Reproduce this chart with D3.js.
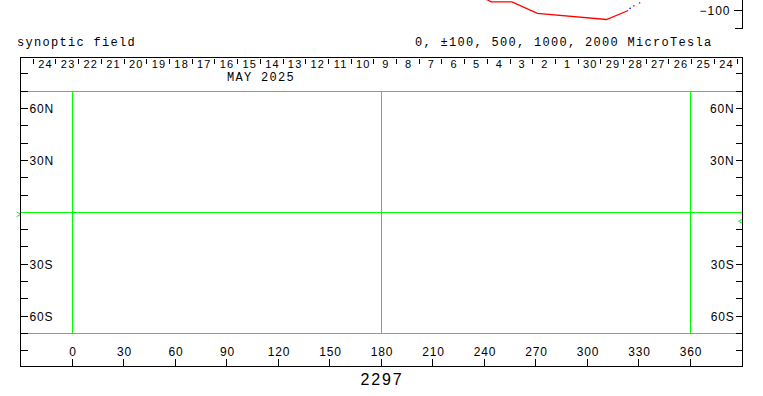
<!DOCTYPE html>
<html>
<head>
<meta charset="utf-8">
<script src="https://cdn.jsdelivr.net/npm/d3@7"></script>
<style>
  body { margin: 0; background: #fff; }
  svg { display: block; }
  .mono { font-family: "Liberation Mono", "DejaVu Sans Mono", monospace; font-size: 12px; letter-spacing: 1.3px; }
  .lbl { font-family: "Liberation Sans", Arial, sans-serif; font-size: 12px; letter-spacing: 0.8px; }
</style>
</head>
<body>
<div id="chart"></div>
<script>
// Day labels along the top (time runs right to left over the rotation)
const dayStart = new Date(Date.UTC(2025, 4, 25)); // left edge of day row
const dayEnd = new Date(Date.UTC(2025, 3, 24));   // right edge of day row
const monthLabel = "MAY 2025";
const rotationNumber = "2297";

// Longitude / latitude ticks
const lonTicks = [0, 30, 60, 90, 120, 150, 180, 210, 240, 270, 300, 330, 360];
const latTicks = [80, 70, 60, 50, 40, 30, 20, 10, -10, -20, -30, -40, -50, -60, -70, -80];
const latLabels = { 60: "60N", 30: "30N", "-30": "30S", "-60": "60S" };

// Green reference lines
const gridLons = [0, 180, 360];
const gridLats = [70, 0, -70];

// Earth latitude markers at both ends of the rotation
const earthLat = [-1.2, -5.2];

// Partly visible panel above the map (time series)
const seriesTimes = [
  "2025-05-05T10:00Z", "2025-05-04T20:00Z", "2025-05-03T22:00Z",
  "2025-05-02T19:00Z", "2025-04-29T18:00Z", "2025-04-28T19:00Z"
];
const seriesValues = [-56, -76, -76, -108, -125, -100];
const blueTimes = ["2025-04-28T17:00Z"];
const blueValues = [-94];
const redDotTimes = ["2025-04-28T13:00Z", "2025-04-28T07:00Z"];
const redDotValues = [-87, -79];

drawChart();

function drawChart() {
  var width = 763;
  var height = 396;
  var green = "#00ff00";
  var svg = d3
    .select("#chart")
    .append("svg")
    .attr("width", width)
    .attr("height", height);

  var left = 20.5, right = 742.5, top = 57.5, bottom = 366.5;

  var x = d3.scaleLinear().domain([0, 360]).range([72, 690]);
  var y = d3.scaleLinear().domain([90, -90]).range([56.7, 367.9]);
  var t = d3.scaleUtc().domain([dayStart, dayEnd]).range([33.3, 737]);
  var yTop = d3.scaleLinear().domain([-100, -150]).range([10.5, 28.5]);
  var px = function(v) { return Math.floor(v) + 0.5; };

  // top panel (mostly cut off)
  var line = d3
    .line()
    .x(function(d) { return t(d.t); })
    .y(function(d) { return yTop(d.v); });
  var series = seriesTimes.map(function(s, i) {
    return { t: new Date(s), v: seriesValues[i] };
  });
  svg
    .append("path")
    .attr("d", line(series))
    .style("fill", "none")
    .style("stroke", "#ff0000")
    .style("stroke-width", 1.3);
  svg
    .selectAll(".reddot")
    .data(redDotTimes)
    .enter()
    .append("rect")
    .attr("x", function(d) { return t(new Date(d)) - 0.7; })
    .attr("y", function(d, i) { return yTop(redDotValues[i]) - 0.7; })
    .attr("width", 1.4)
    .attr("height", 1.4)
    .style("fill", "#ff0000");
  svg
    .selectAll(".bluedot")
    .data(blueTimes)
    .enter()
    .append("rect")
    .attr("x", function(d) { return t(new Date(d)) - 0.7; })
    .attr("y", function(d, i) { return yTop(blueValues[i]) - 0.7; })
    .attr("width", 1.4)
    .attr("height", 1.4)
    .style("fill", "#0000ff");

  var topAxis = svg.append("g").style("shape-rendering", "crispEdges");
  topAxis
    .append("path")
    .attr("d", "M" + right + ",0V" + yTop(-150) + "H" + (right - 8))
    .style("fill", "none")
    .style("stroke", "#000");
  topAxis
    .append("line")
    .attr("x1", right - 9)
    .attr("x2", right)
    .attr("y1", yTop(-100))
    .attr("y2", yTop(-100))
    .style("stroke", "#000");
  topAxis
    .append("text")
    .attr("class", "lbl")
    .attr("x", right - 12)
    .attr("y", yTop(-100) + 4)
    .attr("text-anchor", "end")
    .style("letter-spacing", "1px")
    .text("\u2212100");

  // titles
  svg
    .append("text")
    .attr("class", "mono")
    .attr("x", 17)
    .attr("y", 46)
    .text("synoptic field");
  svg
    .append("text")
    .attr("class", "mono")
    .attr("x", 415)
    .attr("y", 46)
    .text("0, \u00b1100, 500, 1000, 2000 MicroTesla");

  // green grid
  var grid = svg.append("g").style("shape-rendering", "crispEdges");
  grid
    .selectAll(".glat")
    .data(gridLats)
    .enter()
    .append("line")
    .attr("x1", left)
    .attr("x2", right)
    .attr("y1", function(d) { return px(y(d)); })
    .attr("y2", function(d) { return px(y(d)); })
    .style("stroke", green);
  grid
    .selectAll(".glon")
    .data(gridLons)
    .enter()
    .append("line")
    .attr("x1", function(d) { return px(x(d)); })
    .attr("x2", function(d) { return px(x(d)); })
    .attr("y1", px(y(70)))
    .attr("y2", px(y(-70)))
    .style("stroke", green);

  // earth latitude markers at the ends
  svg
    .append("path")
    .attr("d", "M16.5," + (y(earthLat[0]) - 2.5) + "L20.5," + y(earthLat[0]) + "L16.5," + (y(earthLat[0]) + 2.5))
    .style("fill", "none")
    .style("stroke", green);
  svg
    .append("path")
    .attr("d", "M742.5," + (y(earthLat[1]) - 2) + "L738.5," + y(earthLat[1]) + "L742.5," + (y(earthLat[1]) + 2))
    .style("fill", "none")
    .style("stroke", green);

  // frame
  var axes = svg.append("g").style("shape-rendering", "crispEdges");
  axes
    .append("rect")
    .attr("x", left)
    .attr("y", top)
    .attr("width", right - left)
    .attr("height", bottom - top)
    .style("fill", "none")
    .style("stroke", "#000");

  // day ticks and labels
  var days = d3.utcDay.range(dayEnd, d3.utcDay.offset(dayStart, 1));
  axes
    .selectAll(".dtick")
    .data(days)
    .enter()
    .append("line")
    .attr("x1", function(d) { return px(t(d)); })
    .attr("x2", function(d) { return px(t(d)); })
    .attr("y1", 59)
    .attr("y2", 64)
    .style("stroke", "#000");
  var dayLabels = d3.utcDay.range(dayEnd, dayStart);
  axes
    .selectAll(".dlabel")
    .data(dayLabels)
    .enter()
    .append("text")
    .attr("class", "lbl")
    .attr("x", function(d) { return (t(d) + t(d3.utcDay.offset(d, 1))) / 2 + 0.8; })
    .attr("y", 68)
    .attr("text-anchor", "middle")
    .style("font-size", "11px")
    .style("letter-spacing", "1.2px")
    .text(d3.utcFormat("%-d"));
  axes
    .append("text")
    .attr("class", "mono")
    .attr("x", 227)
    .attr("y", 81)
    .text(monthLabel);

  // latitude ticks, both sides
  axes
    .selectAll(".ltick")
    .data(latTicks)
    .enter()
    .append("line")
    .attr("x1", left)
    .attr("x2", left + 7)
    .attr("y1", function(d) { return px(y(d)); })
    .attr("y2", function(d) { return px(y(d)); })
    .style("stroke", "#000");
  axes
    .selectAll(".rtick")
    .data(latTicks)
    .enter()
    .append("line")
    .attr("x1", right - 7)
    .attr("x2", right)
    .attr("y1", function(d) { return px(y(d)); })
    .attr("y2", function(d) { return px(y(d)); })
    .style("stroke", "#000");
  var labelled = latTicks.filter(function(d) { return latLabels[d]; });
  axes
    .selectAll(".llabel")
    .data(labelled)
    .enter()
    .append("text")
    .attr("class", "lbl")
    .attr("x", left + 9)
    .attr("y", function(d) { return y(d) + 4.5; })
    .text(function(d) { return latLabels[d]; });
  axes
    .selectAll(".rlabel")
    .data(labelled)
    .enter()
    .append("text")
    .attr("class", "lbl")
    .attr("x", right - 8)
    .attr("y", function(d) { return y(d) + 4.5; })
    .attr("text-anchor", "end")
    .text(function(d) { return latLabels[d]; });

  // longitude ticks along the bottom
  axes
    .selectAll(".btick")
    .data(lonTicks)
    .enter()
    .append("line")
    .attr("x1", function(d) { return px(x(d)); })
    .attr("x2", function(d) { return px(x(d)); })
    .attr("y1", bottom - 8)
    .attr("y2", bottom)
    .style("stroke", "#000");
  axes
    .selectAll(".blabel")
    .data(lonTicks)
    .enter()
    .append("text")
    .attr("class", "lbl")
    .attr("x", function(d) { return x(d) + 1; })
    .attr("y", 355.5)
    .attr("text-anchor", "middle")
    .text(function(d) { return d; });

  svg
    .append("text")
    .attr("class", "lbl")
    .attr("x", 382)
    .attr("y", 385)
    .attr("text-anchor", "middle")
    .style("font-size", "16px")
    .style("letter-spacing", "1.8px")
    .text(rotationNumber);
}
</script>
</body>
</html>
